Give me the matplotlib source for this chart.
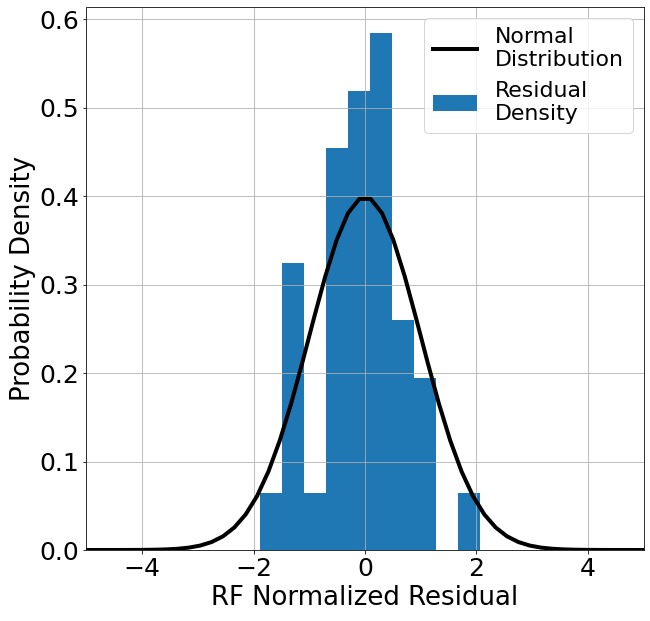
import numpy as np
import matplotlib
matplotlib.use("Agg")
import matplotlib.pyplot as plt

# Histogram of normalized residuals (counts per bin)
bin_edges = [-1.885, -1.49, -1.095, -0.70, -0.305, 0.09, 0.485, 0.88, 1.275, 1.67, 2.065]
bin_counts = [1, 5, 1, 7, 8, 9, 4, 3, 0, 1]

# Reference standard normal curve
norm_mean = 0.0
norm_std = 1.0
x_grid = np.linspace(-5, 5, 50)
pdf = np.exp(-0.5 * ((x_grid - norm_mean) / norm_std) ** 2) / (norm_std * np.sqrt(2 * np.pi))

fig = plt.figure(figsize=(650 / 72, 621 / 72), dpi=72)
ax = fig.add_axes([86.5 / 650, 71 / 621, (643.5 - 86.5) / 650, (613.7 - 71) / 621])

centers = [(bin_edges[i] + bin_edges[i + 1]) / 2 for i in range(len(bin_counts))]
ax.hist(centers, bins=bin_edges, weights=bin_counts, density=True,
        color="#1f77b4", label="Residual\nDensity")
ax.plot(x_grid, pdf, color="black", lw=4, label="Normal\nDistribution")

ax.set_xlim(-5, 5)
ax.grid(True)
ax.set_xlabel("RF Normalized Residual", fontsize=26)
ax.set_ylabel("Probability Density", fontsize=26)
ax.tick_params(labelsize=25)
handles, labels = ax.get_legend_handles_labels()
ax.legend(handles[::-1], labels[::-1], loc="upper right", fontsize=22)

fig.savefig("out.png", dpi=72)
